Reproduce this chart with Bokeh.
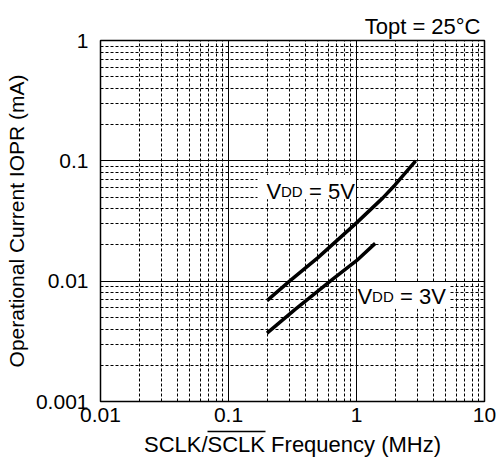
from bokeh.plotting import figure
from bokeh.models import FixedTicker, Label, BoxAnnotation, LogAxis
from bokeh.embed import file_html
from bokeh.resources import INLINE

# ---- data ----
freq_5v = [0.2, 0.3, 0.5, 1.0, 1.6, 2.0, 2.9]
iopr_5v = [0.0069, 0.0100, 0.0157, 0.0305, 0.049, 0.063, 0.100]
freq_3v = [0.2, 0.33, 0.66, 1.0, 1.4]
iopr_3v = [0.0037, 0.0058, 0.0105, 0.0148, 0.0206]

x_ticks = [0.01, 0.1, 1.0, 10.0]
x_tick_labels = ["0.01", "0.1", "1", "10"]
y_ticks = [0.001, 0.01, 0.1, 1.0]
y_tick_labels = ["0.001", "0.01", "0.1", "1"]

title_text = "Topt = 25°C"
x_title = "SCLK/SCLK Frequency (MHz)"
y_title = "Operational Current IOPR (mA)"
label_5v = ["V", "DD", "= 5V"]
label_3v = ["V", "DD", "= 3V"]

FONT = "Liberation Sans"


def minors(ticks):
    out = []
    for t in ticks[:-1]:
        for m in range(2, 10):
            out.append(round(t * m, 6))
    return out


p = figure(width=496, height=459, x_axis_type="log", y_axis_type="log",
           x_range=(0.01, 10), y_range=(0.001, 1),
           output_backend="svg", toolbar_location=None,
           min_border_left=100, min_border_right=12,
           min_border_top=40, min_border_bottom=56)
p.background_fill_color = "white"
p.border_fill_color = "white"
p.outline_line_color = "black"
p.outline_line_width = 1.5

# title
p.title.text = title_text
p.title.align = "right"
p.title.offset = 4
p.title.text_font = FONT
p.title.text_font_size = "22px"
p.title.text_font_style = "normal"
p.title.text_color = "black"
p.title.standoff = 4

xt = FixedTicker(ticks=x_ticks, minor_ticks=minors(x_ticks))
yt = FixedTicker(ticks=y_ticks, minor_ticks=minors(y_ticks))
p.xaxis.ticker = xt
p.yaxis.ticker = yt
p.xgrid.ticker = xt
p.ygrid.ticker = yt
p.xaxis.major_label_overrides = {float(t): s for t, s in zip(x_ticks, x_tick_labels)}
p.yaxis.major_label_overrides = {float(t): s for t, s in zip(y_ticks, y_tick_labels)}


def style_axis(ax, label_size="21px"):
    ax.axis_line_color = None
    ax.major_tick_line_color = None
    ax.minor_tick_line_color = None
    ax.major_tick_in = 0
    ax.major_tick_out = 0
    ax.minor_tick_in = 0
    ax.minor_tick_out = 0
    ax.major_label_text_font = FONT
    ax.major_label_text_font_size = "21px"
    ax.major_label_text_color = "black"
    ax.axis_label_text_font = FONT
    ax.axis_label_text_font_size = label_size
    ax.axis_label_text_font_style = "normal"
    ax.axis_label_text_color = "black"


style_axis(p.xaxis[0], label_size="1px")
style_axis(p.yaxis[0])
p.xaxis.major_label_standoff = 6
# blank 1px label: only a spacer between tick labels and the overline
p.xaxis.axis_label = " "
p.xaxis.axis_label_standoff = 3
p.yaxis.major_label_standoff = 12
p.yaxis.axis_label = y_title
p.yaxis.axis_label_standoff = 5

# overline over the second "SCLK" of the x title: a bounded, label-less axis line
over = LogAxis(ticker=FixedTicker(ticks=[]), bounds=(0.0687, 0.1932))
style_axis(over)
over.axis_line_color = "black"
over.axis_line_width = 1.3
p.add_layout(over, "below")

# x title on its own axis (full width, centred)
xtitle_axis = LogAxis(ticker=FixedTicker(ticks=[]), axis_label=x_title)
style_axis(xtitle_axis, label_size="22px")
xtitle_axis.axis_label_standoff = 0
p.add_layout(xtitle_axis, "below")

for g in (p.xgrid[0], p.ygrid[0]):
    g.grid_line_color = "black"
    g.grid_line_width = 1
    g.grid_line_alpha = 1
    g.minor_grid_line_color = "black"
    g.minor_grid_line_width = 1
    g.minor_grid_line_dash = "3 2"

p.line(freq_5v, iopr_5v, line_width=3.5, line_color="black")
p.line(freq_3v, iopr_3v, line_width=3.5, line_color="black")


def add_piece(x, y, dx, text, size):
    p.add_layout(Label(x=x, y=y, x_offset=dx, text=text,
                       text_font=FONT, text_font_size=f"{size}px", text_color="black",
                       text_align="left", text_baseline="alphabetic"))


# VDD = 5V label (white box behind it)
p.add_layout(BoxAnnotation(left=0.1685, right=0.99, bottom=0.0479, top=0.0768,
                           fill_color="white", fill_alpha=1, line_color=None))
add_piece(0.198, 0.0558, 0, label_5v[0], 22)
add_piece(0.198, 0.0558, 14.5, label_5v[1], 15)
add_piece(0.198, 0.0558, 42.5, label_5v[2], 22)

# VDD = 3V label (white box behind it)
p.add_layout(BoxAnnotation(left=1.01, right=5.3, bottom=0.0059, top=0.0097,
                           fill_color="white", fill_alpha=1, line_color=None))
add_piece(1.02, 0.00741, 0, label_3v[0], 22)
add_piece(1.02, 0.00741, 14.5, label_3v[1], 15)
add_piece(1.02, 0.00741, 42.5, label_3v[2], 22)

open("out.html", "w").write(file_html(p, INLINE))
